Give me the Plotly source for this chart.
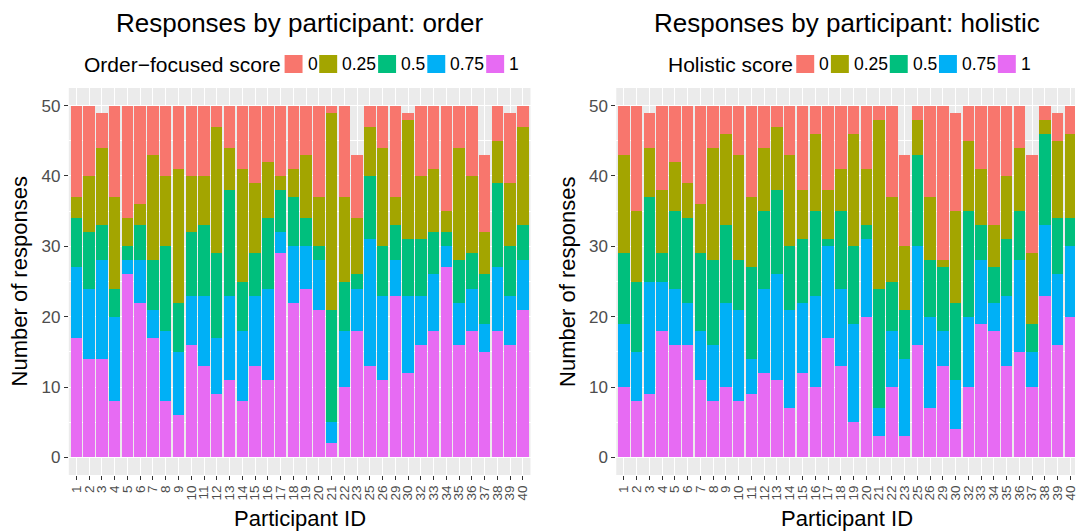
import plotly.graph_objects as go

# ---------------- data ----------------
participants = ["1", "2", "3", "4", "5", "6", "7", "8", "9", "10", "11", "12",
                "13", "14", "15", "16", "17", "18", "19", "20", "21", "22", "23",
                "25", "26", "29", "30", "32", "33", "34", "35", "36", "37", "38",
                "39", "40"]
score_levels = ["0", "0.25", "0.5", "0.75", "1"]
level_colors = ["#F8766D", "#A3A500", "#00BF7D", "#00B0F6", "#E76BF3"]

# Order-focused score counts per participant
order_1 = [17, 14, 14, 8, 26, 22, 17, 8, 6, 16, 13, 9, 11, 8, 13, 11, 29, 22, 24, 21, 2, 10,
           18, 13, 11, 23, 12, 16, 18, 27, 16, 18, 15, 18, 16, 21]
order_075 = [10, 10, 14, 12, 2, 6, 4, 10, 9, 7, 10, 8, 12, 10, 10, 13, 3, 8, 6, 7, 3, 8,
             6, 18, 12, 5, 11, 7, 8, 3, 6, 6, 4, 9, 7, 7]
order_05 = [7, 8, 5, 4, 2, 5, 7, 12, 7, 9, 10, 12, 15, 7, 6, 10, 6, 7, 4, 2, 16, 7,
            2, 9, 7, 5, 8, 8, 6, 2, 6, 5, 7, 12, 7, 5]
order_025 = [3, 8, 11, 13, 4, 3, 15, 10, 19, 8, 7, 18, 6, 16, 10, 8, 2, 4, 9, 7, 28, 12,
             8, 7, 14, 4, 17, 9, 9, 3, 16, 11, 6, 6, 9, 14]
order_0 = [13, 10, 5, 13, 16, 14, 7, 10, 9, 10, 10, 3, 6, 9, 11, 8, 10, 9, 7, 13, 1, 13,
           9, 3, 6, 13, 1, 10, 9, 15, 6, 10, 11, 5, 10, 3]

# Holistic score counts per participant
holistic_1 = [10, 8, 9, 18, 16, 16, 11, 8, 10, 8, 9, 12, 11, 7, 12, 10, 17, 13, 5, 20, 3, 10,
              3, 16, 7, 13, 4, 10, 19, 18, 13, 15, 10, 23, 16, 20]
holistic_075 = [9, 7, 16, 7, 8, 6, 7, 8, 12, 13, 5, 12, 15, 14, 10, 13, 13, 11, 14, 11, 4, 8,
                11, 14, 13, 5, 7, 10, 9, 4, 10, 13, 5, 10, 10, 10]
holistic_05 = [10, 10, 12, 4, 11, 12, 11, 12, 11, 7, 13, 11, 12, 9, 9, 12, 1, 11, 11, 2, 17, 7,
               7, 13, 8, 9, 11, 15, 5, 5, 8, 7, 4, 13, 8, 4]
holistic_025 = [14, 10, 7, 9, 7, 5, 7, 16, 13, 15, 10, 9, 9, 13, 7, 11, 7, 6, 16, 8, 24, 12,
                9, 5, 9, 1, 13, 10, 8, 6, 9, 9, 10, 2, 11, 12]
holistic_0 = [7, 15, 5, 12, 8, 11, 14, 6, 4, 7, 13, 6, 3, 7, 12, 4, 12, 9, 4, 9, 2, 13,
              13, 2, 13, 22, 14, 5, 9, 17, 10, 6, 14, 2, 4, 4]

panel_titles = ["Responses by participant: order", "Responses by participant: holistic"]
legend_titles = ["Order\u2212focused score", "Holistic score"]
x_title = "Participant ID"
y_title = "Number of responses"
y_ticks = [0, 10, 20, 30, 40, 50]

order_counts = [order_0, order_025, order_05, order_075, order_1]
holistic_counts = [holistic_0, holistic_025, holistic_05, holistic_075, holistic_1]

# ---------------- layout helpers ----------------
W, H = 1078, 532
FONT = "Liberation Sans, Arial, Helvetica, sans-serif"


def px(x):
    return x / W


def py(y):
    return 1 - y / H


# Arial / Liberation Sans advance widths (em)
CW = {c: 0.556 for c in "0123456789aebdghnopqu"}
CW.update({".": 0.278, " ": 0.278, "r": 0.333, "t": 0.278, "i": 0.222, "l": 0.222,
           "c": 0.5, "s": 0.5, "f": 0.278, "y": 0.5, "O": 0.778, "H": 0.722,
           "\u2212": 0.584})


def text_w(s, size):
    return sum(CW.get(ch, 0.556) for ch in s) * size


panel_left = [69, 618]
panel_right = [532, 1081]
panel_top, panel_bottom = 88, 475

fig = go.Figure()

axes = [("x", "y"), ("x2", "y2")]
for counts, (xa, ya) in zip([order_counts, holistic_counts], axes):
    # stack from bottom: score 1 first, score 0 last (top)
    for level, color, vals in reversed(list(zip(score_levels, level_colors, counts))):
        fig.add_trace(go.Bar(
            x=participants, y=vals, name=level,
            marker=dict(color=color, line=dict(width=0)),
            xaxis=xa, yaxis=ya, showlegend=False,
        ))

units_per_px = 36.2 / (panel_right[0] - panel_left[0])
common_x = dict(
    type="category", categoryorder="array", categoryarray=participants,
    tickmode="array", tickvals=participants, ticktext=participants,
    tickangle=-90, ticks="outside", ticklen=4, tickcolor="#333333", tickwidth=1,
    tickfont=dict(family=FONT, size=13.5, color="#4D4D4D"),
    showgrid=True, gridcolor="white", gridwidth=1.1, zeroline=False,
    showline=False, fixedrange=True,
)
common_y = dict(
    range=[-2.5, 52.5], tickvals=y_ticks, ticks="outside", ticklen=4,
    tickcolor="#333333", tickwidth=1,
    tickfont=dict(family=FONT, size=17, color="#4D4D4D"),
    showgrid=True, gridcolor="white", gridwidth=1.1, zeroline=False,
    showline=False, fixedrange=True,
    minor=dict(dtick=5, showgrid=True, gridcolor="white", gridwidth=0.5),
)

x_domain1 = [px(panel_left[0]), px(panel_right[0])]
x_domain2 = [px(panel_left[1]), 1.0]
x_range1 = [-0.6, 35.6]
x_range2 = [-0.6, 35.6 - (panel_right[1] - W) * units_per_px]
y_domain = [py(panel_bottom), py(panel_top)]

fig.update_layout(
    width=W, height=H, margin=dict(l=0, r=0, t=0, b=0),
    paper_bgcolor="white", plot_bgcolor="#EBEBEB",
    barmode="stack", bargap=0.1,
    font=dict(family=FONT, color="black"),
    xaxis=dict(common_x, domain=x_domain1, range=x_range1, anchor="y"),
    yaxis=dict(common_y, domain=y_domain, anchor="x"),
    xaxis2=dict(common_x, domain=x_domain2, range=x_range2, anchor="y2"),
    yaxis2=dict(common_y, domain=y_domain, anchor="x2"),
    showlegend=False,
)

annotations = []
shapes = []
for i in range(2):
    cx = (panel_left[i] + panel_right[i]) / 2
    annotations.append(dict(text=panel_titles[i], x=px(cx), y=py(23), xref="paper", yref="paper",
                            xanchor="center", yanchor="middle", showarrow=False,
                            font=dict(family=FONT, size=26, color="black")))
    annotations.append(dict(text=x_title, x=px(cx), y=py(518), xref="paper", yref="paper",
                            xanchor="center", yanchor="middle", showarrow=False,
                            font=dict(family=FONT, size=22, color="black")))
    annotations.append(dict(text=y_title, x=px(panel_left[i] - 49), y=py((panel_top + panel_bottom) / 2),
                            xref="paper", yref="paper", textangle=-90,
                            xanchor="center", yanchor="middle", showarrow=False,
                            font=dict(family=FONT, size=22, color="black")))
    # legend (ggplot-like, horizontal with title on the left)
    t_size, l_size, key = 21, 17.5, 18
    total = text_w(legend_titles[i], t_size) + 6
    for lv in score_levels:
        total += key + 3 + text_w(lv, l_size) + 4
    total -= 4
    x = cx - total / 2
    ly = 64
    annotations.append(dict(text=legend_titles[i], x=px(x), y=py(ly), xref="paper", yref="paper",
                            xanchor="left", yanchor="middle", showarrow=False,
                            font=dict(family=FONT, size=t_size, color="black")))
    x += text_w(legend_titles[i], t_size) + 6
    for lv, col in zip(score_levels, level_colors):
        shapes.append(dict(type="rect", xref="paper", yref="paper",
                           x0=px(x), x1=px(x + key), y0=py(ly + key / 2), y1=py(ly - key / 2),
                           fillcolor=col, line=dict(width=0)))
        x += key + 3
        annotations.append(dict(text=lv, x=px(x), y=py(ly), xref="paper", yref="paper",
                                xanchor="left", yanchor="middle", showarrow=False,
                                font=dict(family=FONT, size=l_size, color="black")))
        x += text_w(lv, l_size) + 4

fig.update_layout(annotations=annotations, shapes=shapes)
fig.write_html("out.html")
